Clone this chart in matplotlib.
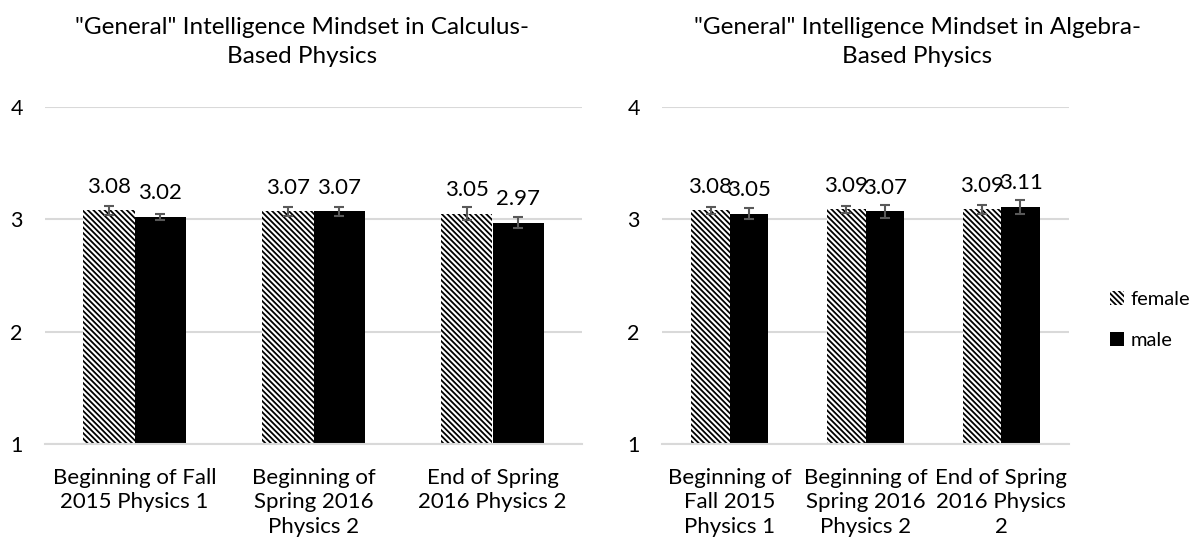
import matplotlib.pyplot as plt
import numpy as np

plt.rcParams['font.family'] = ['Lato', 'DejaVu Sans']
plt.rcParams['hatch.linewidth'] = 1.3

# data
calc_cats = ['Beginning of Fall\n2015 Physics 1', 'Beginning of\nSpring 2016\nPhysics 2',
             'End of Spring\n2016 Physics 2']
alg_cats = ['Beginning of\nFall 2015\nPhysics 1', 'Beginning of\nSpring 2016\nPhysics 2',
            'End of Spring\n2016 Physics\n2']
calc_female = [3.08, 3.07, 3.05]
calc_male = [3.02, 3.07, 2.97]
calc_female_err = [0.04, 0.04, 0.06]
calc_male_err = [0.03, 0.04, 0.05]
alg_female = [3.08, 3.09, 3.09]
alg_male = [3.05, 3.07, 3.11]
alg_female_err = [0.03, 0.03, 0.04]
alg_male_err = [0.05, 0.06, 0.06]
titles = ['"General" Intelligence Mindset in Calculus-\nBased Physics',
          '"General" Intelligence Mindset in Algebra-\nBased Physics']

W, H = 1200, 543
fig = plt.figure(figsize=(12, 5.43), dpi=100)
ax1 = fig.add_axes([45 / W, 1 - 444 / H, 537 / W, 337 / H])
ax2 = fig.add_axes([662 / W, 1 - 444 / H, 407 / W, 337 / H])

bw = 0.285
grid_c = '#d9d9d9'
err_c = '#595959'


def draw(ax, cats, fem, male, fem_err, male_err):
    x = np.arange(len(cats))
    b1 = ax.bar(x - bw / 2, fem, bw, color='white', edgecolor='black',
                hatch='\\\\\\\\\\\\', linewidth=0, label='female', zorder=2)
    b2 = ax.bar(x + bw / 2, male, bw, color='black', linewidth=0, label='male', zorder=2)
    ax.errorbar(x - bw / 2, fem, yerr=fem_err, fmt='none', ecolor=err_c,
                elinewidth=1.5, capsize=3.3, capthick=1.5, zorder=3)
    ax.errorbar(x + bw / 2, male, yerr=male_err, fmt='none', ecolor=err_c,
                elinewidth=1.5, capsize=3.3, capthick=1.5, zorder=3)
    for xi, v in zip(x - bw / 2, fem):
        ax.annotate(f'{v:.2f}', (xi, v), xytext=(0, 17), textcoords='offset points',
                    ha='center', va='center', fontsize=16)
    for xi, v in zip(x + bw / 2, male):
        ax.annotate(f'{v:.2f}', (xi, v), xytext=(0, 17), textcoords='offset points',
                    ha='center', va='center', fontsize=16)
    ax.set_ylim(1, 4)
    ax.set_xlim(-0.5, len(cats) - 0.5)
    ax.set_yticks([1, 2, 3, 4])
    ax.set_xticks(x)
    ax.set_xticklabels(cats, fontsize=16, linespacing=1.3)
    ax.yaxis.grid(True, color=grid_c, linewidth=1.5, zorder=0)
    ax.set_axisbelow(True)
    for s in ['top', 'right', 'left']:
        ax.spines[s].set_visible(False)
    ax.spines['bottom'].set_color(grid_c)
    ax.spines['bottom'].set_linewidth(1.5)
    ax.tick_params(length=0)
    ax.tick_params(axis='x', pad=17)
    ax.tick_params(axis='y', pad=16, labelsize=15.5)
    return b1, b2


h = draw(ax1, calc_cats, calc_female, calc_male, calc_female_err, calc_male_err)
draw(ax2, alg_cats, alg_female, alg_male, alg_female_err, alg_male_err)

fig.text(302 / W, 1 - 17 / H, titles[0], ha='center', va='top', fontsize=17.5, linespacing=1.45)
fig.text(917 / W, 1 - 17 / H, titles[1], ha='center', va='top', fontsize=17.5, linespacing=1.45)

fig.legend(h, ['female', 'male'], loc='center left', bbox_to_anchor=(1110 / W, 1 - 320 / H),
           frameon=False, fontsize=14.5, handlelength=0.7, handleheight=0.7,
           handletextpad=0.3, labelspacing=1.2, borderpad=0, borderaxespad=0)

plt.savefig('out.png', dpi=100)
